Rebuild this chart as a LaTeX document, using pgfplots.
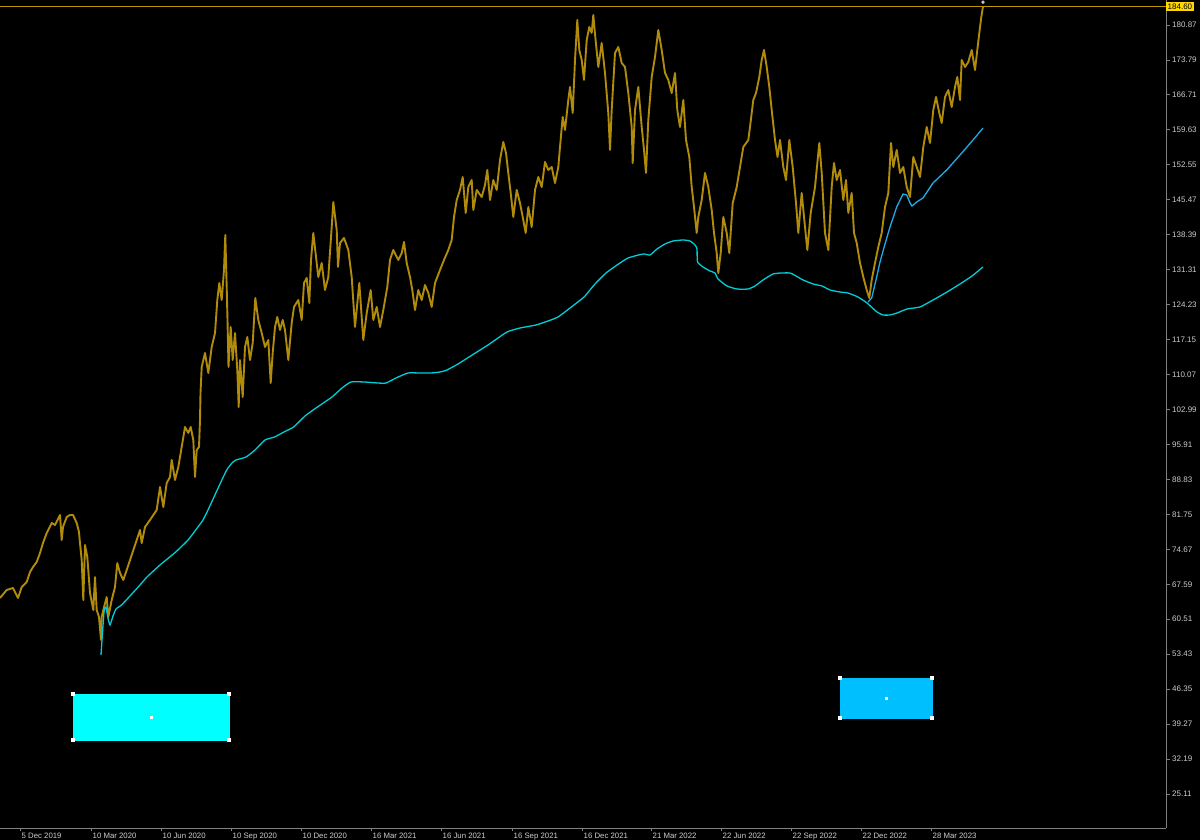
\documentclass[border=0pt]{standalone}
\usepackage{fontspec}
\setmainfont{Liberation Sans}
\usepackage{pgfplots}
\pgfplotsset{compat=1.18}
\definecolor{barGold}{RGB}{176,140,10}
\definecolor{vwapA}{RGB}{0,206,214}
\definecolor{vwapB}{RGB}{30,172,232}
\definecolor{rectA}{RGB}{0,255,255}
\definecolor{rectB}{RGB}{0,191,255}
\definecolor{priceLine}{RGB}{190,150,0}
\definecolor{priceBox}{RGB}{255,215,0}
\definecolor{axGray}{RGB}{128,128,128}
\definecolor{lblGray}{RGB}{205,205,205}
\begin{document}
\begin{tikzpicture}
\fill[black] (0pt,0pt) rectangle (1200pt,840pt);
\useasboundingbox (0pt,0pt) rectangle (1200pt,840pt);
\begin{axis}[
  at={(0pt,12pt)}, anchor=south west,
  scale only axis, width=1166pt, height=828pt,
  xmin=0, xmax=1166, ymin=18.22, ymax=185.93,
  clip=false,
  axis x line*=bottom, axis y line*=right,
  axis line style={draw=axGray, line width=0.8pt},
  tick style={draw=axGray, line width=0.8pt},
  tick align=outside, major tick length=3.5pt,
  xtick={20,91,161,231,301,371,441,512,582,651,721,791,861,931},
  xticklabels={5 Dec 2019,10 Mar 2020,10 Jun 2020,10 Sep 2020,10 Dec 2020,16 Mar 2021,16 Jun 2021,16 Sep 2021,16 Dec 2021,21 Mar 2022,22 Jun 2022,22 Sep 2022,22 Dec 2022,28 Mar 2023},
  xticklabel style={font=\fontsize{7.8}{8}\selectfont, text=lblGray, anchor=north west, inner sep=0pt, xshift=1.5pt, yshift=-1.5pt},
  ytick={25.11,32.19,39.27,46.35,53.43,60.51,67.59,74.67,81.75,88.83,95.91,102.99,110.07,117.15,124.23,131.31,138.39,145.47,152.55,159.63,166.71,173.79,180.87},
  yticklabels={25.11,32.19,39.27,46.35,53.43,60.51,67.59,74.67,81.75,88.83,95.91,102.99,110.07,117.15,124.23,131.31,138.39,145.47,152.55,159.63,166.71,173.79,180.87},
  yticklabel style={font=\fontsize{8}{8}\selectfont, text=lblGray, anchor=west, inner sep=0pt, xshift=2.5pt},
]
% current price line
\addplot[priceLine, line width=1pt] coordinates {(0,184.60) (1166,184.60)};
% price bars (traced high/low path)
\addplot[barGold, line width=1.9pt, line join=round] table {
x y
0 64.81
6.7 66.43
13 66.83
18 64.81
21.7 67.03
26.7 68.05
30 70.07
33 71.08
36.7 72.10
40 73.92
43 75.94
46.7 77.97
51.7 80.00
55 79.59
60 81.62
61.7 76.55
63 79.19
66.7 81.21
70 81.62
73 81.62
76.7 80.00
79 78.17
80 75.94
81.7 72.50
83.3 64.40
85 75.54
87.3 73.11
90 65.82
93.3 62.37
95 69.06
96.7 62.37
99 60.96
101 56.30
101.7 60.96
103.3 62.37
106.7 65.01
108.3 60.96
111.7 64.40
115 67.03
117.3 71.89
120 69.87
123.3 68.45
126.7 70.48
131.7 73.51
136.7 76.55
140 78.58
141.7 75.94
145 79.19
150 80.60
156.7 82.63
160 87.29
163.3 83.24
166.7 88.10
170 89.31
171.7 92.76
175 88.71
178.3 91.34
181.7 95.39
185 99.44
188.3 98.23
190.7 99.44
193.3 96.81
195 89.31
196.7 94.78
199 95.39
200 100.86
200.5 106.33
201.7 111.59
205 114.43
208.3 110.38
211.7 115.65
215 118.48
217.3 125.16
219.3 128.61
221.7 125.16
224 131.24
225.3 138.33
226.7 127.80
227.5 121.11
228.5 111.59
230.7 119.70
232.7 113.01
235 118.48
237.3 110.99
238.7 103.49
240 113.01
242.7 105.52
245 115.65
247.3 117.67
250 113.01
252.7 116.46
255.3 125.57
258.3 121.11
261.7 118.48
265 115.65
268.3 117.06
270.7 108.35
272.7 114.43
275 119.70
277.3 121.72
280 119.09
282.7 121.11
285 119.09
288.3 113.01
291.7 120.51
294 123.75
298.3 125.16
301.7 121.11
304 128.61
306.7 129.62
309.3 124.56
311 133.27
313.3 138.74
316.7 132.66
318.3 129.82
321.7 132.66
325 127.19
328.3 129.82
331.7 139.95
333.3 145.01
336.7 139.34
338 131.85
340 136.71
344 137.72
348.3 135.29
351.7 129.82
355 119.70
359.3 128.61
363.3 117.06
366.7 122.53
370.7 127.19
373.3 121.11
376.7 123.75
380 119.70
383.3 123.14
387.3 127.80
390 133.27
393.3 135.29
398.3 133.27
401.7 134.68
404 136.91
406.7 132.66
410 129.82
412.3 127.19
415 123.14
418.3 127.19
421.7 125.16
425 128.20
428.3 126.58
431.7 123.75
435 128.61
440 131.24
444 133.27
448.3 135.29
451.7 137.32
454 141.98
456.7 145.42
460 147.45
462.7 150.08
465.7 142.79
468.3 148.05
471.7 149.47
473.3 143.39
476.7 147.45
481.7 146.03
485 148.46
487.3 151.50
490 145.42
493.3 149.47
496.7 147.45
500 153.52
503.3 157.17
506 154.94
508.3 150.89
510.7 146.84
513.3 141.98
516.7 147.45
520 144.81
522.7 141.98
525.7 138.74
528.3 144.00
531.7 139.95
535 147.45
538.3 150.08
541.7 148.05
545 153.12
548.3 151.50
551.7 152.10
555 148.86
558.3 152.10
560 156.15
562.7 162.23
565 159.60
568.3 165.67
570 168.31
572.7 163.04
575 173.78
577.3 181.88
579.3 175.80
581.7 173.78
584 169.73
586.7 177.83
589.3 180.46
591.7 179.25
593.3 182.89
595.3 178.44
598.3 172.36
601.7 177.22
605 171.14
608.3 163.04
610 155.55
611.7 163.65
615 175.19
618.3 176.41
621.7 173.17
625 172.36
628.3 167.09
631.7 160.21
632.7 152.91
635 163.65
638.3 168.31
641.7 160.21
644 155.55
646 150.89
648.3 161.62
651.7 170.33
655 174.38
658.3 179.85
661.7 175.80
665 171.14
668.3 169.73
671.7 167.09
675 171.14
677.3 163.65
680 160.21
683.3 165.67
686 157.57
689.3 154.13
691.7 148.05
694 144.00
696.7 138.74
698.3 141.98
701.7 145.42
705 150.89
708.3 148.05
711.7 143.39
714 138.74
716.7 134.68
718.3 130.63
720.7 134.68
723.3 141.98
726.7 138.74
729.3 134.68
732.7 144.81
736.7 148.05
740 152.10
743.3 156.15
748.3 157.57
750 160.21
753.3 165.67
756 167.09
759.3 170.33
761.7 173.78
764 175.80
766.7 172.36
769.3 168.31
771.7 163.65
775 157.57
777.5 154.13
780 157.57
783.3 152.10
786 149.47
789.3 157.57
792.7 152.10
796 144.81
798.3 138.74
801.7 146.84
805 139.95
807.3 135.29
810.7 142.79
815 148.05
819.3 156.97
821.7 150.89
825 138.74
828.3 135.29
831.7 148.05
834 152.91
836.7 149.47
840 151.50
843.3 145.42
846 149.47
848.3 142.79
851.7 146.84
854 138.74
856.7 136.71
860 132.66
863.3 129.82
866.7 127.19
869.3 125.57
871.7 129.22
875 132.66
878.3 135.90
881.7 138.74
885 144.00
888.3 146.84
891 156.97
893.3 152.10
896.7 155.55
900 150.89
903.3 152.10
906.7 148.05
910 146.03
913.3 154.13
916.7 152.10
920 150.08
923.3 156.15
926.7 160.21
930 156.97
933.3 163.65
936 166.28
939.3 163.04
941.7 161.02
945 166.28
948.3 167.70
951.7 164.26
955 168.31
957.3 170.33
960 165.67
961.7 173.78
965 172.36
968.3 173.37
971.7 175.80
975 171.75
977.3 175.80
979.3 179.25
981.3 182.49
983 184.60
};
% anchored average 1
\addplot[vwapA, line width=1.3pt, smooth, tension=0.3] table {
x y
101 53.26
104 61.97
106 62.98
108 60.75
110 59.34
113 61.16
116 62.58
121.5 63.39
130 65.21
140 67.44
147 69.06
160 71.49
175.7 74.12
188 76.55
198 79.19
203 80.60
208 82.63
214 85.26
220 87.90
226.7 90.73
232 92.15
236 92.76
246 93.36
255 94.78
265 96.81
274.5 97.42
284 98.43
293.6 99.44
305 101.67
316 103.29
332 105.52
342 107.34
351 108.56
364 108.56
378 108.35
386 108.35
396 109.37
408 110.38
420 110.38
431 110.38
440 110.58
447 110.99
458 112.20
469 113.62
488 116.05
507 118.68
520 119.49
536 120.10
548 120.91
558 121.72
570 123.54
584 125.77
595 128.41
606 130.63
617 132.25
628 133.67
643 134.48
650 134.28
657 135.49
665 136.51
673 137.11
683 137.32
690 137.11
695 136.31
697 135.49
697.5 132.86
703 131.85
710 131.04
715 130.63
718 129.42
727 128.00
737 127.39
748 127.39
755 128.00
763 129.22
773 130.43
781 130.63
790 130.63
796 130.03
803 129.22
813 128.41
822 128.00
830 127.19
840 126.78
848 126.58
858 125.77
867 124.56
877 122.73
883 122.13
890 122.13
897 122.53
907 123.34
920 123.75
933 125.16
947 126.78
960 128.41
972 130.03
983 131.85
};
% anchored average 2
\addplot[vwapB, line width=1.3pt] table {
x y
868 124.76
871.7 125.57
876 129.22
880 132.86
885 136.51
890 139.95
896.7 144.00
903 146.63
906.7 146.43
910 144.81
912 144.20
916.7 145.01
923 145.83
933 148.86
946.7 151.50
960 154.53
973 157.57
983 160.00
};
% rectangles
\addplot[fill=rectA, draw=rectA, line width=0.6pt] coordinates {(73,45.36) (229,45.36) (229,36.04) (73,36.04) (73,45.36)};
\addplot[fill=rectB, draw=rectB, line width=0.6pt] coordinates {(840,48.60) (932,48.60) (932,40.50) (840,40.50) (840,48.60)};
\addplot[only marks, mark=square*, mark size=1.6pt, mark options={fill=white, draw=white}] coordinates {(73,45.36) (229,45.36) (229,36.04) (73,36.04) (840,48.60) (932,48.60) (932,40.50) (840,40.50)};
\addplot[only marks, mark=square*, mark size=1.1pt, mark options={fill=white, draw=white}] coordinates {(151,40.70) (886,44.55)};
\addplot[only marks, mark=*, mark size=1.5pt, mark options={fill=lblGray, draw=lblGray}] coordinates {(983,185.5)};
\node[fill=priceBox, text=black, font=\fontsize{8}{8}\selectfont, inner xsep=1.5pt, inner ysep=1.3pt, anchor=west] at (axis cs:1166,184.60) {184.60};
\end{axis}
\end{tikzpicture}
\end{document}
